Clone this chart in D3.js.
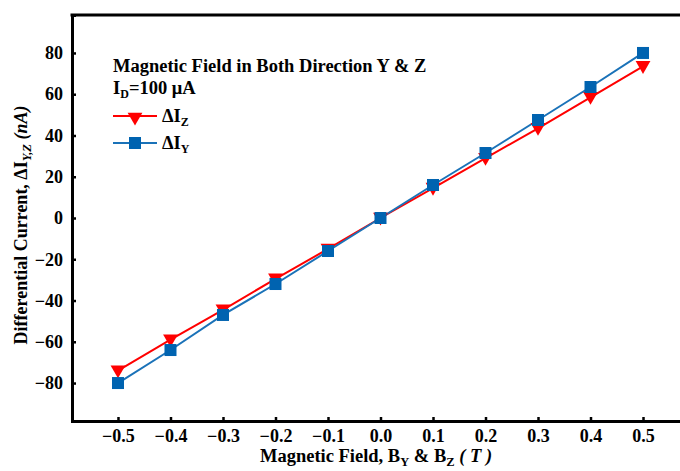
<!DOCTYPE html>
<html><head><meta charset="utf-8">
<script src="https://cdn.jsdelivr.net/npm/d3@7"></script>
<style>
body{margin:0;background:#fff;}
svg{display:block;font-family:"Liberation Serif","Times New Roman",serif;font-weight:bold;}
</style></head>
<body><svg id="c" width="680" height="471"></svg>
<script>
const fieldT = [-0.5,-0.4,-0.3,-0.2,-0.1,0.0,0.1,0.2,0.3,0.4,0.5];
const deltaIZ = [-74,-59,-44.5,-29.5,-15,0,14.5,29,43.5,58.5,73.5];
const deltaIY = [-80,-64,-47,-32,-16,0,16,31.5,47.5,63.5,80];
const xTicks = [-0.5,-0.4,-0.3,-0.2,-0.1,0.0,0.1,0.2,0.3,0.4,0.5];
const yTicks = [-80,-60,-40,-20,0,20,40,60,80];

const svg = d3.select("#c");
const L=72, R=689, T=15, B=421;
const x = d3.scaleLinear().domain([-0.5876,0.5876]).range([L,R]);
const y = d3.scaleLinear().domain([-98.4,98.4]).range([B,T]);
const fmtX = d => (d<0?"\u22120":"0")+"."+Math.round(Math.abs(d)*10);
const fmtY = d => d<0 ? "\u2212"+Math.abs(d) : ""+d;

// axes
const xa = svg.append("g").attr("transform",`translate(0,${B})`)
  .call(d3.axisBottom(x).tickValues(xTicks).tickSize(-4).tickFormat(fmtX).tickPadding(8));
const ya = svg.append("g").attr("transform",`translate(${L},0)`)
  .call(d3.axisLeft(y).tickValues(yTicks).tickSize(-4).tickFormat(fmtY).tickPadding(9));
[xa,ya].forEach(a=>{
  a.select(".domain").attr("stroke","#000").attr("stroke-width",3);
  a.selectAll(".tick line").attr("stroke","#000").attr("stroke-width",2.5);
  a.selectAll(".tick text").attr("fill","#000").style("font-size","18px").style("font-family","Liberation Serif, serif").style("font-weight","bold");
});
svg.append("line").attr("x1",L-1.5).attr("x2",R).attr("y1",T).attr("y2",T).attr("stroke","#000").attr("stroke-width",3);

const redC="#ff0000", blueC="#1a72b8", blueM="#0063b0";
const line = d3.line();
function series(vals,color){
  svg.append("path").attr("d",line(fieldT.map((f,i)=>[x(f),y(vals[i])])))
    .attr("fill","none").attr("stroke",color).attr("stroke-width",2);
}
series(deltaIZ,redC);
series(deltaIY,blueC);
const tri = d3.symbol().type(d3.symbolTriangle).size(95);
svg.append("g").selectAll("path").data(fieldT).join("path")
  .attr("d",tri).attr("fill",redC)
  .attr("transform",(f,i)=>`translate(${x(f)},${y(deltaIZ[i])-1}) rotate(180)`);
svg.append("g").selectAll("rect").data(fieldT).join("rect")
  .attr("x",f=>x(f)-6).attr("y",(f,i)=>y(deltaIY[i])-6).attr("width",12).attr("height",12)
  .attr("fill",blueM);

// legend
const lg = svg.append("g").style("font-size","18.5px");
lg.append("text").attr("x",113).attr("y",72).text("Magnetic Field in Both Direction Y & Z");
const t2 = lg.append("text").attr("x",113).attr("y",94);
t2.append("tspan").text("I");
t2.append("tspan").attr("dy",4).style("font-size","12px").text("D");
t2.append("tspan").attr("dy",-4).text("=100 \u03bcA");
function legItem(yy,color,label,marker){
  lg.append("line").attr("x1",113).attr("x2",157).attr("y1",yy).attr("y2",yy).attr("stroke",color).attr("stroke-width",2);
  if(marker==="tri") lg.append("path").attr("d",tri).attr("fill",color).attr("transform",`translate(135,${yy+1}) rotate(180)`);
  else lg.append("rect").attr("x",129).attr("y",yy-6).attr("width",12).attr("height",12).attr("fill",blueM);
  const t = lg.append("text").attr("x",162).attr("y",yy+6);
  t.append("tspan").text("\u0394I");
  t.append("tspan").attr("dy",4).style("font-size","12px").text(label);
}
legItem(116,redC,"Z","tri");
legItem(143,blueC,"Y","sq");

// x title
const xt = svg.append("text").attr("x",376).attr("y",462).attr("text-anchor","middle").style("font-size","18.5px");
xt.append("tspan").text("Magnetic Field, B");
xt.append("tspan").attr("dy",4).style("font-size","12.5px").text("Y");
xt.append("tspan").attr("dy",-4).text(" & B");
xt.append("tspan").attr("dy",4).style("font-size","12.5px").text("Z");
xt.append("tspan").attr("dy",-4).style("font-style","italic").text(" ( T )");

// y title
const yt = svg.append("text").attr("transform","translate(27,225) rotate(-90)").attr("text-anchor","middle").style("font-size","18px");
yt.append("tspan").text("Differential Current, \u0394I");
yt.append("tspan").attr("dy",4).style("font-size","12.5px").style("font-style","italic").text("Y,Z");
yt.append("tspan").attr("dy",-4).style("font-style","italic").text(" (nA)");
</script></body></html>
